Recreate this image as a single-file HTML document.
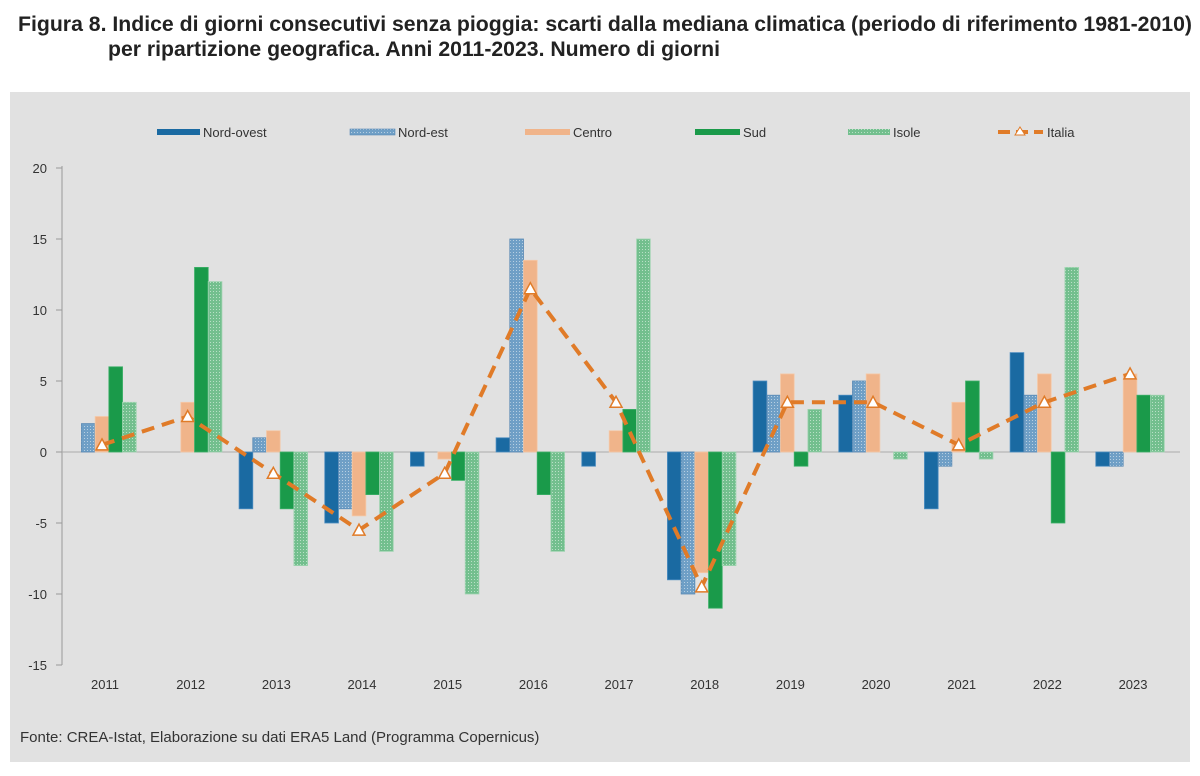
<!DOCTYPE html>
<html><head><meta charset="utf-8"><style>body{margin:0;background:#fff}svg{display:block}</style></head><body>
<svg width="1200" height="776" xmlns="http://www.w3.org/2000/svg" font-family="Liberation Sans, sans-serif">
<defs>
<pattern id="pne" width="3" height="3" patternUnits="userSpaceOnUse"><rect width="3" height="3" fill="#6f9fc6"/><rect width="1" height="1" fill="#b7cfe2"/></pattern>
<pattern id="pis" width="3" height="3" patternUnits="userSpaceOnUse"><rect width="3" height="3" fill="#73bf8e"/><rect width="1" height="1" fill="#b9e0c6"/></pattern>
</defs>
<text x="18" y="31" font-size="21" font-weight="bold" fill="#222" textLength="1174" lengthAdjust="spacingAndGlyphs">Figura 8. Indice di giorni consecutivi senza pioggia: scarti dalla mediana climatica (periodo di riferimento 1981-2010)</text>
<text x="108" y="56" font-size="21" font-weight="bold" fill="#222" textLength="612" lengthAdjust="spacingAndGlyphs">per ripartizione geografica. Anni 2011-2023. Numero di giorni</text>
<rect x="10" y="92" width="1180" height="670" fill="#e1e1e1"/>
<g font-size="13" fill="#333">
<rect x="157" y="129" width="43" height="6" fill="#1a6aa2"/><text x="203" y="137">Nord-ovest</text>
<rect x="350" y="129" width="45" height="6" fill="url(#pne)" stroke="#5a8ab5" stroke-width="0.6"/><text x="398" y="137">Nord-est</text>
<rect x="525" y="129" width="45" height="6" fill="#f0b48a"/><text x="573" y="137">Centro</text>
<rect x="695" y="129" width="45" height="6" fill="#1a9a4a"/><text x="743" y="137">Sud</text>
<rect x="848" y="129" width="42" height="6" fill="url(#pis)"/><text x="893" y="137">Isole</text>
<line x1="998" y1="132" x2="1043" y2="132" stroke="#e07b28" stroke-width="4" stroke-dasharray="12,6"/><polygon points="1020,127 1025,135 1015,135" fill="#fff" stroke="#e07b28" stroke-width="1"/><text x="1047" y="137">Italia</text>
</g>
<g font-size="13" fill="#333" text-anchor="end">
<text x="47" y="173">20</text><text x="47" y="244">15</text><text x="47" y="315">10</text><text x="47" y="386">5</text><text x="47" y="457">0</text><text x="47" y="528">-5</text><text x="47" y="599">-10</text><text x="47" y="670">-15</text>
</g>
<line x1="62" y1="166" x2="62" y2="665" stroke="#999"/>
<g stroke="#999"><line x1="56" y1="168" x2="62" y2="168"/><line x1="56" y1="239" x2="62" y2="239"/><line x1="56" y1="310" x2="62" y2="310"/><line x1="56" y1="381" x2="62" y2="381"/><line x1="56" y1="452" x2="62" y2="452"/><line x1="56" y1="523" x2="62" y2="523"/><line x1="56" y1="594" x2="62" y2="594"/><line x1="56" y1="665" x2="62" y2="665"/></g>
<line x1="62" y1="452" x2="1180" y2="452" stroke="#aaa"/>
<g id="bars"></g>
<polyline id="it" fill="none" stroke="#e07b28" stroke-width="4" stroke-dasharray="13,8"/>
<g id="tri"></g>
<g id="xl" font-size="13" fill="#333" text-anchor="middle"></g>
<text x="20" y="742" font-size="15" fill="#333">Fonte: CREA-Istat, Elaborazione su dati ERA5 Land (Programma Copernicus)</text>
<script>
var d=[[0,2,2.5,6,3.5,0.5],[0,0,3.5,13,12,2.5],[-4,1,1.5,-4,-8,-1.5],[-5,-4,-4.5,-3,-7,-5.5],[-1,0,-0.5,-2,-10,-1.5],[1,15,13.5,-3,-7,11.5],[-1,0,1.5,3,15,3.5],[-9,-10,-8.5,-11,-8,-9.5],[5,4,5.5,-1,3,3.5],[4,5,5.5,0,-0.5,3.5],[-4,-1,3.5,5,-0.5,0.5],[7,4,5.5,-5,13,3.5],[-1,-1,5.5,4,4,5.5]];
var fills=["#1a6aa2","url(#pne)","#f0b48a","#1a9a4a","url(#pis)"],strokes=["#4a8cc0","#5a8ab5","#f5c9a8","#3db068","#9fd4b0"];
var ns="http://www.w3.org/2000/svg",b=document.getElementById("bars"),t=document.getElementById("tri"),xl=document.getElementById("xl"),pts=[];
function Y(v){return 452-v*14.2}
d.forEach(function(r,i){var c=102+85.67*i;
for(var k=0;k<5;k++){if(r[k]==0)continue;var e=document.createElementNS(ns,"rect");var x=c+(k-2.5)*13.7;var y1=Y(Math.max(r[k],0)),y2=Y(Math.min(r[k],0));
e.setAttribute("x",x);e.setAttribute("y",y1);e.setAttribute("width",13.7);e.setAttribute("height",y2-y1);e.setAttribute("fill",fills[k]);e.setAttribute("stroke",strokes[k]);e.setAttribute("stroke-width","0.8");b.appendChild(e);}
var y=Y(r[5]);pts.push(c+","+y);
var p=document.createElementNS(ns,"polygon");p.setAttribute("points",c+","+(y-6)+" "+(c+6)+","+(y+5)+" "+(c-6)+","+(y+5));p.setAttribute("fill","#fff");p.setAttribute("stroke","#e07b28");p.setAttribute("stroke-width","1.5");t.appendChild(p);
var tx=document.createElementNS(ns,"text");tx.setAttribute("x",c+3);tx.setAttribute("y",689);tx.textContent=2011+i;xl.appendChild(tx);});
document.getElementById("it").setAttribute("points",pts.join(" "));
</script>
</svg>
</body></html>
